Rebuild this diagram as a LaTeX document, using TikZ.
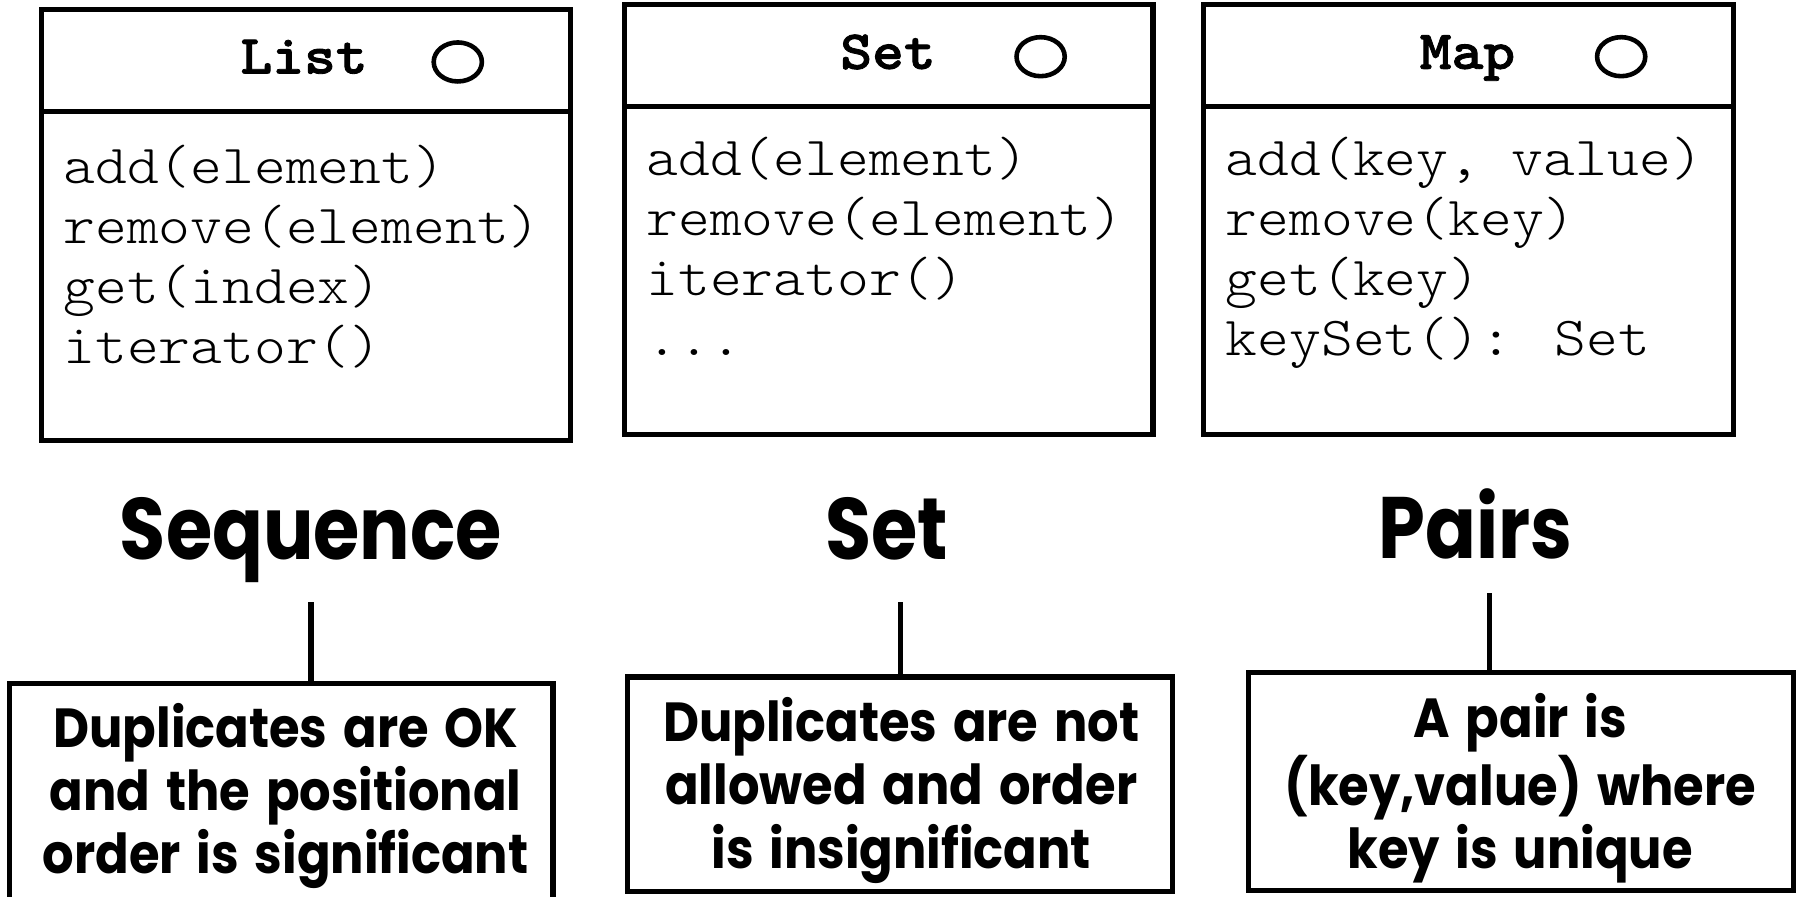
\documentclass[tikz,border=0pt]{standalone}
\usepackage{fontspec}
\setmainfont{Poppins}
\newfontfamily\codefont{lmmonolt10-regular.otf}[BoldFont=lmmonolt10-bold.otf, BoldFeatures={FakeBold=1.5}, FakeStretch=1.1]
\newfontfamily\kindfont{Poppins}[FakeStretch=0.86]
\newfontfamily\notefont{Poppins}[FakeStretch=0.9, WordSpace=1.5]
\usetikzlibrary{shapes.geometric}
\begin{document}
\begin{tikzpicture}[x=0.5pt,y=-0.5pt,
  frame/.style={draw, line width=2.3pt, rectangle, inner sep=0pt},
  code/.style={font=\codefont\fontsize{24}{26}\selectfont, anchor=base west, inner sep=0pt},
  title/.style={font=\codefont\bfseries\fontsize{24}{26}\selectfont, anchor=base, inner sep=0pt},
  badge/.style={draw, ellipse, minimum width=21pt, minimum height=17pt, line width=2pt, inner sep=0pt},
  kind/.style={font=\kindfont\bfseries\fontsize{38}{40}\selectfont, anchor=base, inner sep=0pt},
  notetext/.style={align=center, inner sep=0pt, font=\notefont\bfseries\fontsize{24}{27.5}\selectfont},
  link/.style={line width=2.3pt}]
\useasboundingbox (0,0) rectangle (1568,781);
\fill[white] (0,0) rectangle (1568,781);

% ---- List interface ----
\node[frame, minimum width=230.5pt, minimum height=44.5pt] (listhead) at (266.5,52.5) {};
\node[frame, minimum width=230.5pt, minimum height=143.5pt] (listbody) at (266.5,240.5) {};
\node[title] (listname) at (265,64) {List};
\node[badge] (listmark) at (399,54) {};
\node[code] (list1) at (55,160) {add(element)};
\node[code] (list2) at (55,212.3) {remove(element)};
\node[code] (list3) at (55,264.6) {get(index)};
\node[code] (list4) at (55,316.9) {iterator()};

% ---- Set interface ----
\node[frame, minimum width=230.5pt, minimum height=44.5pt] (sethead) at (774.5,48.5) {};
\node[frame, minimum width=230.5pt, minimum height=143pt] (setbody) at (774.5,236) {};
\node[title] (setname) at (774,60) {Set};
\node[badge] (setmark) at (907,49.4) {};
\node[code] (set1) at (563,153) {add(element)};
\node[code] (set2) at (563,205.3) {remove(element)};
\node[code] (set3) at (563,257.6) {iterator()};
\node[code] (set4) at (563,309.9) {...};

% ---- Map interface ----
\node[frame, minimum width=231pt, minimum height=44.5pt] (maphead) at (1280,48.5) {};
\node[frame, minimum width=231pt, minimum height=143pt] (mapbody) at (1280,236) {};
\node[title] (mapname) at (1279,60) {Map};
\node[badge] (mapmark) at (1413,49.4) {};
\node[code] (map1) at (1068,153) {add(key, value)};
\node[code] (map2) at (1068,205.3) {remove(key)};
\node[code] (map3) at (1068,257.6) {get(key)};
\node[code] (map4) at (1068,309.9) {keySet(): Set};

% ---- collection kinds ----
\node[kind] (seqkind) at (271,488) {Sequence};
\node[kind] (setkind) at (773,488) {Set};
\node[kind] (pairkind) at (1286,487) {Pairs};

% ---- notes ----
\node[frame, minimum width=237pt, minimum height=95pt] (seqnote) at (245,691) {};
\node[frame, minimum width=237.5pt, minimum height=93.5pt] (setnote) at (784.5,683.5) {};
\node[frame, minimum width=237.5pt, minimum height=95pt] (pairnote) at (1325.5,681) {};
\node[notetext] (seqtext) at (249,694)
  {Duplicates are OK\\and the positional\\order is significant};
\node[notetext] (settext) at (785.5,689)
  {Duplicates are not\\allowed and order\\is insignificant};
\node[notetext] (pairtext) at (1325,687)
  {A pair is\\(key,value) where\\key is unique};

% ---- links from kinds to notes ----
\coordinate (seqtip) at (271,525);
\coordinate (settip) at (785,525);
\coordinate (pairtip) at (1298,517);
\draw[link] (seqtip) -- (seqtip |- seqnote.north);
\draw[link] (settip) -- (settip |- setnote.north);
\draw[link] (pairtip) -- (pairtip |- pairnote.north);
\end{tikzpicture}
\end{document}
